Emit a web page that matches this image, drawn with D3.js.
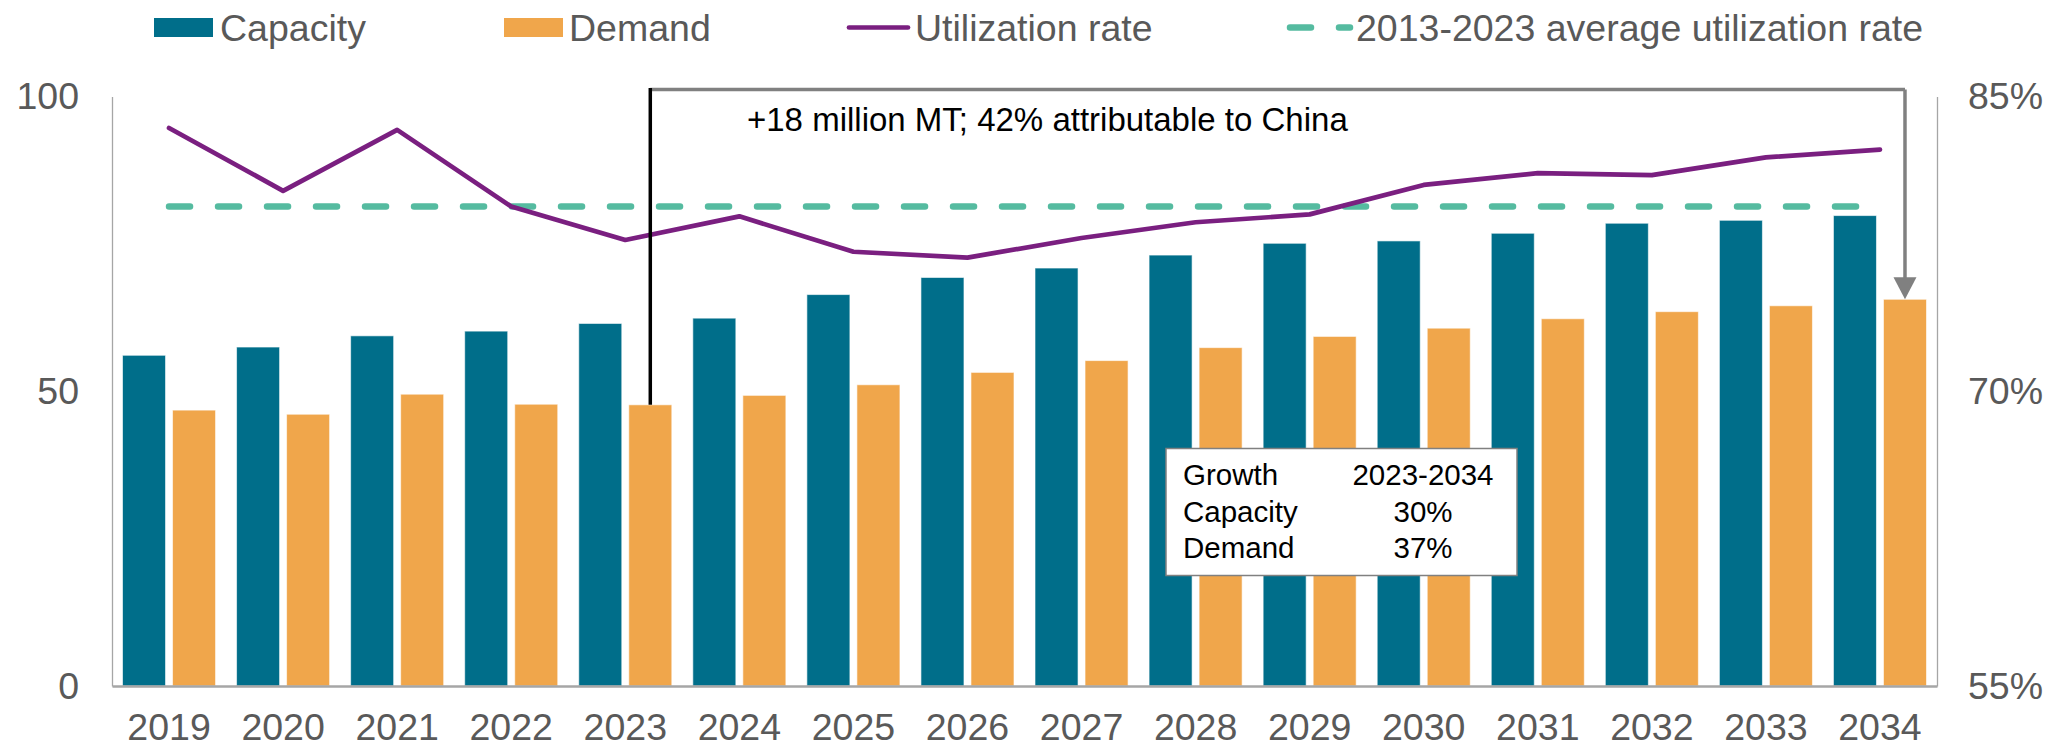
<!DOCTYPE html>
<html>
<head>
<meta charset="utf-8">
<script src="https://cdn.jsdelivr.net/npm/d3@7"></script>
<style>
  html, body { margin: 0; padding: 0; background: #fff; }
  svg { display: block; font-family: "Liberation Sans", Arial, sans-serif; }
</style>
</head>
<body>
<svg id="chart" width="2072" height="748"></svg>
<script>
// ---- Data ----
const years = ["2019","2020","2021","2022","2023","2024","2025","2026","2027","2028","2029","2030","2031","2032","2033","2034"];
const capacity = [56.1, 57.5, 59.4, 60.2, 61.5, 62.4, 66.4, 69.3, 70.9, 73.1, 75.1, 75.5, 76.8, 78.5, 79.0, 79.8];
const demand   = [46.8, 46.1, 49.5, 47.8, 47.7, 49.3, 51.1, 53.2, 55.2, 57.4, 59.3, 60.7, 62.3, 63.5, 64.5, 65.6];
const utilization = [83.4, 80.2, 83.3, 79.4, 77.7, 78.9, 77.1, 76.8, 77.8, 78.6, 79.0, 80.5, 81.1, 81.0, 81.9, 82.3];
const avgUtilization = 79.4;
const leftTicks = [0, 50, 100];
const rightTicks = [55, 70, 85];
const seriesNames = ["Capacity", "Demand"];
const legendLabels = ["Capacity", "Demand", "Utilization rate", "2013-2023 average utilization rate"];
const annotationText = "+18 million MT; 42% attributable to China";
const growthRows = [["Growth", "2023-2034"], ["Capacity", "30%"], ["Demand", "37%"]];

// ---- Styles ----
const colCap = "#006E8A", colDem = "#F0A64B", colUtil = "#7A1F80", colAvg = "#55BBA0";
const axisCol = "#A6A6A6", labelCol = "#595959";
const font = "Liberation Sans, Arial, sans-serif";

const svg = d3.select("#chart");
const margin = {left: 112, right: 2072 - 1937, top: 96.5, bottom: 748 - 686};
const W = 2072, H = 748;

const x0 = d3.scaleBand().domain(years).range([margin.left, W - margin.right]).padding(0);
const x1 = d3.scaleBand().domain(seriesNames).range([0, x0.bandwidth()]).paddingInner(0.14).paddingOuter(0.21);
const yL = d3.scaleLinear().domain([0, 100]).range([H - margin.bottom, margin.top]);
const yR = d3.scaleLinear().domain([55, 85]).range([H - margin.bottom, margin.top]);

const data = years.map((y, i) => ({year: y, Capacity: capacity[i], Demand: demand[i], util: utilization[i]}));

// ---- Bars ----
const g = svg.append("g");
const groups = g.selectAll("g.yr").data(data).join("g").attr("transform", d => `translate(${x0(d.year)},0)`);
groups.selectAll("rect").data(d => seriesNames.map(k => ({key: k, value: d[k]})))
  .join("rect")
  .attr("x", d => x1(d.key))
  .attr("width", x1.bandwidth())
  .attr("y", d => yL(d.value))
  .attr("height", d => yL(0) - yL(d.value))
  .attr("fill", d => d.key === "Capacity" ? colCap : colDem)
  .attr("stroke", "#ffffff").attr("stroke-width", 1).attr("stroke-opacity", 0.6);

// ---- Axes ----
const axL = d3.axisLeft(yL).tickValues(leftTicks).tickSize(0).tickPadding(33).tickFormat(d3.format("d"));
const gL = svg.append("g").attr("transform", `translate(${margin.left},0)`).call(axL);
gL.select(".domain").attr("stroke", axisCol).attr("stroke-width", 1.3);
gL.selectAll("text").attr("font-size", 37.5).attr("fill", labelCol).attr("font-family", font);

const axR = d3.axisRight(yR).tickValues(rightTicks).tickSize(0).tickPadding(31).tickFormat(d => d + "%");
const gR = svg.append("g").attr("transform", `translate(${W - margin.right},0)`).call(axR);
gR.select(".domain").attr("stroke", axisCol).attr("stroke-width", 1.3);
gR.selectAll("text").attr("font-size", 37.5).attr("fill", labelCol).attr("font-family", font);

const axB = d3.axisBottom(x0).tickSize(0).tickPadding(27);
const gB = svg.append("g").attr("transform", `translate(0,${yL(0)})`).call(axB);
gB.select(".domain").attr("stroke", axisCol).attr("stroke-width", 2.5);
gB.selectAll("text").attr("font-size", 37.5).attr("fill", labelCol).attr("font-family", font);

// ---- Average dashed line ----
const cx = y => x0(y) + x0.bandwidth() / 2;
svg.append("line")
  .attr("x1", cx(years[0])).attr("x2", cx(years[years.length - 1]))
  .attr("y1", yR(avgUtilization)).attr("y2", yR(avgUtilization))
  .attr("stroke", colAvg).attr("stroke-width", 6.5)
  .attr("stroke-dasharray", "21 28").attr("stroke-linecap", "round");

// ---- Utilization line ----
const line = d3.line().x(d => cx(d.year)).y(d => yR(d.util));
svg.append("path").datum(data).attr("d", line)
  .attr("fill", "none").attr("stroke", colUtil).attr("stroke-width", 4.7)
  .attr("stroke-linejoin", "round").attr("stroke-linecap", "round");

// ---- Annotation connector ----
const iStart = years.indexOf("2023"), iEnd = years.indexOf("2034");
const xa = x0("2023") + x1("Demand") + x1.bandwidth() / 2;
const xb = x0("2034") + x1("Demand") + x1.bandwidth() / 2;
const yTop = margin.top - 7;
const tipY = yL(demand[iEnd]);
svg.append("line").attr("x1", xa).attr("x2", xb).attr("y1", yTop).attr("y2", yTop)
  .attr("stroke", "#808080").attr("stroke-width", 3.5);
svg.append("line").attr("x1", xb).attr("x2", xb).attr("y1", yTop).attr("y2", tipY - 20)
  .attr("stroke", "#808080").attr("stroke-width", 3.5);
svg.append("path")
  .attr("d", `M${xb - 11.5},${tipY - 22} L${xb + 11.5},${tipY - 22} L${xb},${tipY} Z`)
  .attr("fill", "#808080");
svg.append("line").attr("x1", xa).attr("x2", xa).attr("y1", yTop - 1.5).attr("y2", yL(demand[iStart]))
  .attr("stroke", "#000").attr("stroke-width", 3.5);
svg.append("text").attr("x", 747).attr("y", 130.5)
  .attr("font-size", 33).attr("fill", "#000").text(annotationText);

// ---- Growth box ----
const box = svg.append("g");
box.append("rect").attr("x", 1166).attr("y", 448.5).attr("width", 351).attr("height", 127)
  .attr("fill", "#fff").attr("stroke", "#808080").attr("stroke-width", 1.5);
growthRows.forEach((r, i) => {
  box.append("text").attr("x", 1183).attr("y", 485 + i * 36.7).attr("font-size", 29.5).attr("fill", "#000").text(r[0]);
  box.append("text").attr("x", 1423).attr("y", 485 + i * 36.7).attr("font-size", 29.5).attr("fill", "#000")
    .attr("text-anchor", "middle").text(r[1]);
});

// ---- Legend ----
const leg = svg.append("g").attr("font-size", 37.5).attr("fill", labelCol);
const legY = 27.5;
leg.append("rect").attr("x", 154).attr("y", 18).attr("width", 59).attr("height", 19).attr("fill", colCap);
leg.append("text").attr("x", 220).attr("y", legY).attr("dy", "0.35em").attr("fill", labelCol).text(legendLabels[0]);
leg.append("rect").attr("x", 504).attr("y", 18).attr("width", 59).attr("height", 19).attr("fill", colDem);
leg.append("text").attr("x", 569).attr("y", legY).attr("dy", "0.35em").attr("fill", labelCol).text(legendLabels[1]);
leg.append("line").attr("x1", 849).attr("x2", 908).attr("y1", legY).attr("y2", legY)
  .attr("stroke", colUtil).attr("stroke-width", 4.7).attr("stroke-linecap", "round");
leg.append("text").attr("x", 915).attr("y", legY).attr("dy", "0.35em").attr("fill", labelCol).text(legendLabels[2]);
leg.append("line").attr("x1", 1290).attr("x2", 1350).attr("y1", legY).attr("y2", legY)
  .attr("stroke", colAvg).attr("stroke-width", 6.5).attr("stroke-dasharray", "21 28").attr("stroke-linecap", "round");
leg.append("text").attr("x", 1356).attr("y", legY).attr("dy", "0.35em").attr("fill", labelCol).text(legendLabels[3]);
</script>
</body>
</html>
